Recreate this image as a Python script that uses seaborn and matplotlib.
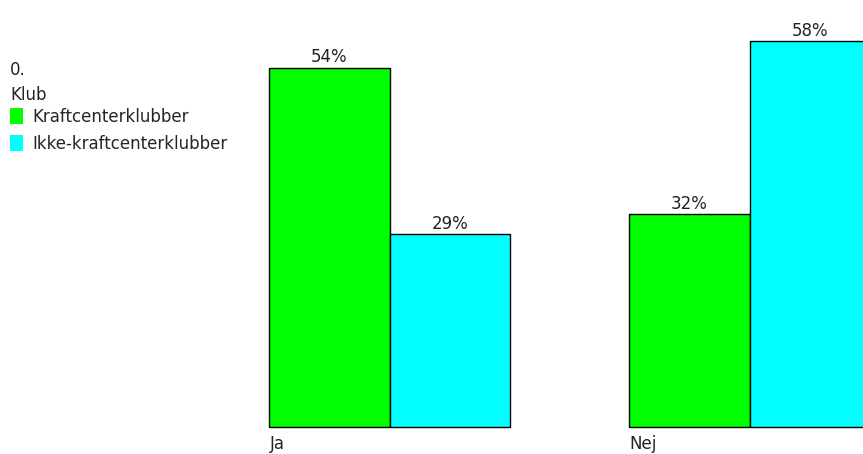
import pandas as pd
import seaborn as sns
import matplotlib.pyplot as plt

# values (percent)
answers = ["Ja", "Nej"]
groups = ["Kraftcenterklubber", "Ikke-kraftcenterklubber"]
kraftcenter = [54, 32]
ikke_kraftcenter = [29, 58]
colors = ["#00ff00", "#00ffff"]

df = pd.DataFrame({
    "svar": answers * 2,
    "klub": [groups[0]] * 2 + [groups[1]] * 2,
    "pct": kraftcenter + ikke_kraftcenter,
})

sns.set_style("white")
plt.rcParams["font.family"] = ["DejaVu Sans"]
fs = 12

fig = plt.figure(figsize=(8.63, 4.54), dpi=100)
ax = fig.add_axes([0, 0, 1, 1])

sns.barplot(data=df, x="svar", y="pct", hue="klub", order=answers,
            hue_order=groups, palette=colors, width=0.67, saturation=1,
            edgecolor="black", linewidth=1, ax=ax)

for cont in ax.containers:
    ax.bar_label(cont, labels=[f"{v:.0f}%" for v in cont.datavalues],
                 padding=1, fontsize=fs, color="#222222")

# axis layout: group centres 360 px apart, 0% at y=427 px, 6.65 px per %
ax.set_xlim(-1.082, 1.315)
ax.set_ylim(-4.06, 64.2)
ax.axis("off")

for i, a in enumerate(answers):
    ax.text(i - 0.333, -1.2, a, ha="left", va="top", fontsize=fs,
            color="#222222")

leg = ax.legend(title="0.\nKlub", loc="upper left",
                bbox_to_anchor=(0.002, 0.885), frameon=False,
                fontsize=fs, title_fontsize=fs, handlelength=0.75,
                handleheight=1.1, handletextpad=0.6, labelspacing=0.55,
                borderpad=0, alignment="left")
leg.get_title().set_linespacing(1.5)
leg._legend_box.sep = 3  # tighter gap between title and entries
for h in leg.legend_handles:
    h.set_edgecolor("none")

plt.savefig("out.png", dpi=100)
plt.close()
